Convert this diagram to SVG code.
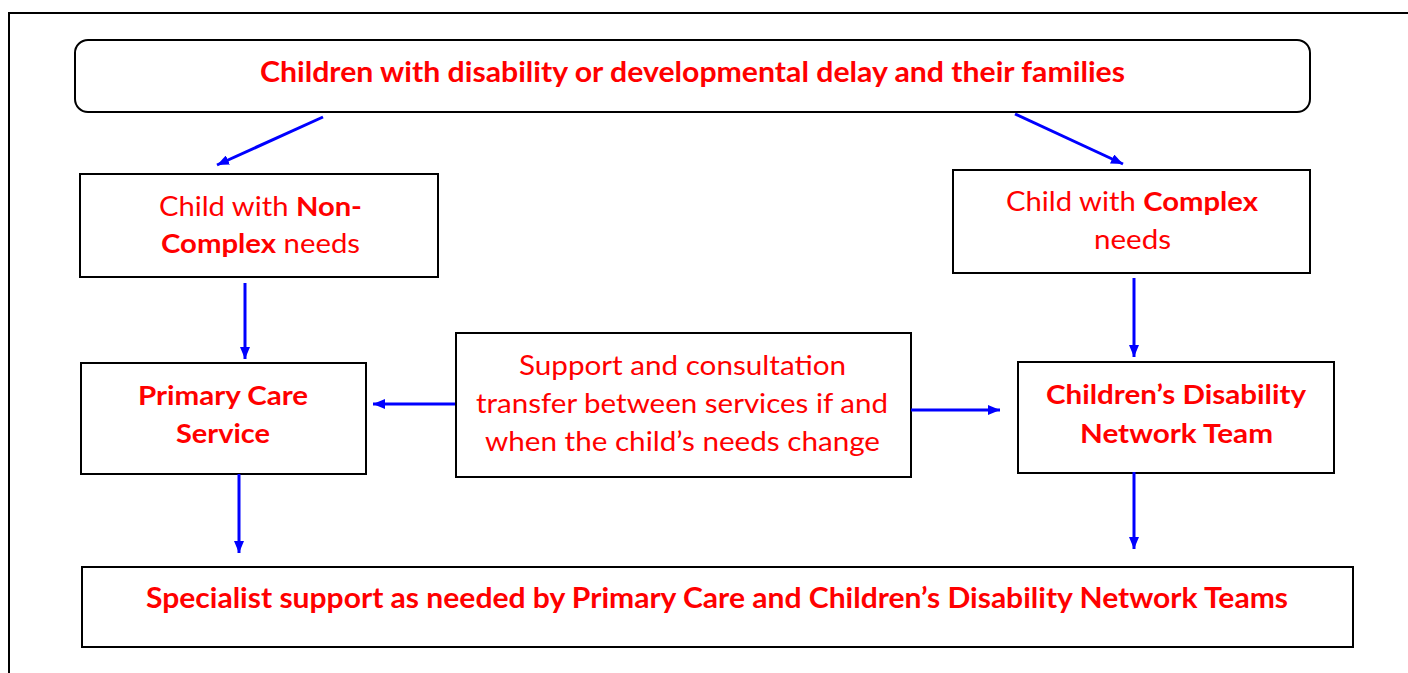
<svg xmlns="http://www.w3.org/2000/svg" width="1408" height="673" viewBox="0 0 1408 673">
  <defs>
    <marker id="arrowhead" viewBox="0 0 12 10" refX="12" refY="5" markerWidth="12" markerHeight="10" markerUnits="userSpaceOnUse" orient="auto">
      <path d="M0,0 L12,5 L0,10 Z" fill="#0000FF"/>
    </marker>
    <style>
      .box { fill: #ffffff; stroke: #000000; stroke-width: 2; }
      .lbl { font-family: "Lato", "Open Sans", sans-serif; font-size: 27px; fill: #FF0000; text-anchor: middle; }
      .b { font-weight: bold; }
      .hd { font-size: 28px; font-weight: bold; }
      .conn { fill: none; stroke: #0000FF; stroke-width: 3; marker-end: url(#arrowhead); }
    </style>
  </defs>

  <rect width="1408" height="673" fill="#ffffff"/>
  <!-- page frame -->
  <path d="M9,673 V13 H1408" fill="none" stroke="#000000" stroke-width="2"/>

  <g id="families">
    <rect class="box" x="75" y="40" width="1235" height="72" rx="13" ry="13"/>
    <text class="lbl hd" x="692.5" y="82" textLength="865" lengthAdjust="spacingAndGlyphs">Children with disability or developmental delay and their families</text>
  </g>

  <g id="non-complex">
    <rect class="box" x="80" y="174" width="358" height="103"/>
    <text class="lbl" x="260.5" y="216" textLength="203" lengthAdjust="spacingAndGlyphs">Child with <tspan class="b">Non-</tspan></text>
    <text class="lbl" x="260.5" y="253" textLength="199" lengthAdjust="spacingAndGlyphs"><tspan class="b">Complex</tspan> needs</text>
  </g>

  <g id="complex">
    <rect class="box" x="953" y="170" width="357" height="103"/>
    <text class="lbl" x="1132" y="211" textLength="252" lengthAdjust="spacingAndGlyphs">Child with <tspan class="b">Complex</tspan></text>
    <text class="lbl" x="1132.5" y="249" textLength="77" lengthAdjust="spacingAndGlyphs">needs</text>
  </g>

  <g id="primary-care">
    <rect class="box" x="81" y="363" width="285" height="111"/>
    <text class="lbl b" x="223" y="405" textLength="170" lengthAdjust="spacingAndGlyphs">Primary Care</text>
    <text class="lbl b" x="223" y="443" textLength="94" lengthAdjust="spacingAndGlyphs">Service</text>
  </g>

  <g id="transfer">
    <rect class="box" x="456" y="333" width="455" height="144"/>
    <text class="lbl" x="682.5" y="375" textLength="327" lengthAdjust="spacingAndGlyphs">Support and consultation</text>
    <text class="lbl" x="682" y="413" textLength="412" lengthAdjust="spacingAndGlyphs">transfer between services if and</text>
    <text class="lbl" x="682.5" y="451" textLength="395" lengthAdjust="spacingAndGlyphs">when the child’s needs change</text>
  </g>

  <g id="network-team">
    <rect class="box" x="1018" y="362" width="316" height="111"/>
    <text class="lbl b" x="1176" y="404" textLength="260" lengthAdjust="spacingAndGlyphs">Children’s Disability</text>
    <text class="lbl b" x="1176.5" y="443" textLength="193" lengthAdjust="spacingAndGlyphs">Network Team</text>
  </g>

  <g id="specialist">
    <rect class="box" x="82" y="567" width="1271" height="80"/>
    <text class="lbl hd" x="717" y="608" textLength="1142" lengthAdjust="spacingAndGlyphs">Specialist support as needed by Primary Care and Children’s Disability Network Teams</text>
  </g>

  <g id="connectors">
    <path class="conn" d="M323,117 L217,165"/>
    <path class="conn" d="M1015,114 L1123,164"/>
    <path class="conn" d="M245,283 L245,359"/>
    <path class="conn" d="M1134,278 L1134,357"/>
    <path class="conn" d="M455,404 L373,404"/>
    <path class="conn" d="M911,410 L1000,410"/>
    <path class="conn" d="M239,474 L239,553"/>
    <path class="conn" d="M1134,472 L1134,549"/>
  </g>
</svg>
